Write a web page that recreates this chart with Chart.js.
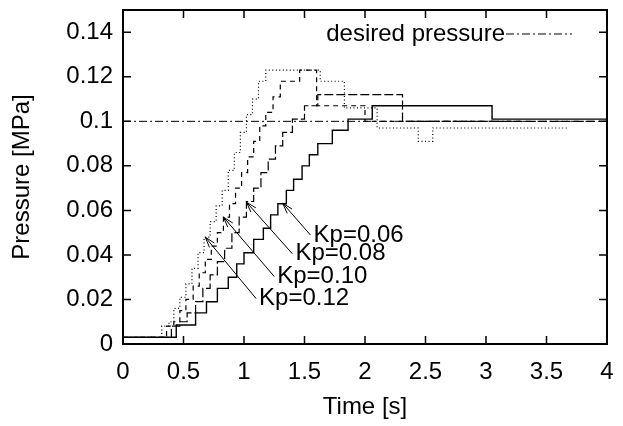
<!DOCTYPE html>
<html>
<head>
<meta charset="utf-8">
<script src="https://cdn.jsdelivr.net/npm/chart.js@4.4.0/dist/chart.umd.min.js"></script>
<style>
  body { margin: 0; background: #fff; }
  canvas { display: block; }
</style>
</head>
<body>
<canvas id="chart" width="623" height="426"></canvas>
<script>
// axis ticks
const xTicks = [0, 0.5, 1, 1.5, 2, 2.5, 3, 3.5, 4];
const xTickLabels = ['0', '0.5', '1', '1.5', '2', '2.5', '3', '3.5', '4'];
const yTicks = [0, 0.02, 0.04, 0.06, 0.08, 0.1, 0.12, 0.14];
const yTickLabels = ['0', '0.02', '0.04', '0.06', '0.08', '0.1', '0.12', '0.14'];

// desired pressure
const desiredT = [0, 4];
const desiredP = [0.1, 0.1];

// Kp=0.12 (time where the step starts, pressure of the step)
const kp12T = [0, 0.32, 0.38, 0.42, 0.47, 0.52, 0.57, 0.62, 0.67, 0.72, 0.77, 0.82, 0.87, 0.92, 0.97, 1.02, 1.07, 1.12, 1.18, 1.63, 1.83, 2.1, 2.44, 2.56, 3.68];
const kp12P = [0.003, 0.008, 0.010, 0.016, 0.021, 0.027, 0.034, 0.041, 0.048, 0.055, 0.062, 0.069, 0.078, 0.086, 0.095, 0.103, 0.110, 0.118, 0.123, 0.118, 0.106, 0.097, 0.091, 0.097, 0.097];

// Kp=0.10
const kp10T = [0, 0.36, 0.42, 0.47, 0.52, 0.58, 0.63, 0.68, 0.73, 0.78, 0.83, 0.88, 0.93, 0.98, 1.03, 1.08, 1.13, 1.18, 1.24, 1.30, 1.46, 1.60, 2.0, 3.3];
const kp10P = [0.003, 0.008, 0.010, 0.015, 0.020, 0.026, 0.032, 0.038, 0.044, 0.050, 0.057, 0.063, 0.070, 0.077, 0.084, 0.091, 0.098, 0.104, 0.111, 0.118, 0.123, 0.107, 0.100, 0.100];

// Kp=0.08
const kp08T = [0, 0.40, 0.47, 0.53, 0.60, 0.66, 0.72, 0.78, 0.84, 0.90, 0.96, 1.02, 1.08, 1.14, 1.20, 1.26, 1.32, 1.40, 1.50, 1.61, 2.31, 3.9];
const kp08P = [0.003, 0.008, 0.010, 0.014, 0.019, 0.025, 0.031, 0.037, 0.043, 0.050, 0.057, 0.064, 0.070, 0.077, 0.083, 0.089, 0.095, 0.101, 0.107, 0.112, 0.100, 0.100];

// Kp=0.06
const kp06T = [0, 0.44, 0.60, 0.69, 0.78, 0.87, 0.94, 1.00, 1.08, 1.16, 1.22, 1.28, 1.35, 1.41, 1.48, 1.54, 1.61, 1.73, 1.86, 2.06, 3.05, 4.0];
const kp06P = [0.003, 0.0085, 0.014, 0.019, 0.025, 0.030, 0.036, 0.041, 0.047, 0.052, 0.058, 0.063, 0.069, 0.074, 0.080, 0.085, 0.090, 0.096, 0.101, 0.107, 0.101, 0.101];

// labels with arrows: [label, tail t, tail p, tip t, tip p]
const kpNotes = [
    ['Kp=0.06', 1.55, 0.0489, 1.32, 0.0632],
    ['Kp=0.08', 1.40, 0.0405, 1.02, 0.0637],
    ['Kp=0.10', 1.25, 0.0303, 0.83, 0.0570],
    ['Kp=0.12', 1.10, 0.0204, 0.68, 0.0480]
];

const FONT = '"Liberation Sans", Arial, Helvetica, sans-serif';

function pts(ts, ps) {
    return ts.map((t, i) => ({ x: t, y: ps[i] }));
}

function series(label, ts, ps, dash, width) {
    return {
        label: label,
        data: pts(ts, ps),
        borderColor: '#000',
        borderWidth: width,
        borderDash: dash,
        pointRadius: 0,
        stepped: true,
        fill: false
    };
}

// frame, inward tick marks, key and arrow labels
const decorPlugin = {
    id: 'decor',
    afterDraw(chart) {
        const ctx = chart.ctx;
        const a = chart.chartArea;
        const xs = chart.scales.x;
        const ys = chart.scales.y;
        ctx.save();
        ctx.strokeStyle = '#000';
        ctx.fillStyle = '#000';
        ctx.setLineDash([]);
        ctx.lineWidth = 1.5;
        ctx.beginPath();
        xTicks.forEach(v => {
            const px = xs.getPixelForValue(v);
            ctx.moveTo(px, a.bottom); ctx.lineTo(px, a.bottom - 8);
            ctx.moveTo(px, a.top); ctx.lineTo(px, a.top + 8);
        });
        yTicks.forEach(v => {
            const py = ys.getPixelForValue(v);
            ctx.moveTo(a.left, py); ctx.lineTo(a.left + 8, py);
            ctx.moveTo(a.right, py); ctx.lineTo(a.right - 8, py);
        });
        ctx.stroke();
        ctx.lineWidth = 2;
        ctx.strokeRect(a.left, a.top, a.right - a.left, a.bottom - a.top);

        // key
        ctx.font = '24px ' + FONT;
        ctx.textAlign = 'right';
        ctx.textBaseline = 'middle';
        ctx.fillText('desired pressure', 505, 34);
        ctx.lineWidth = 1;
        ctx.setLineDash([8, 3, 2, 3]);
        ctx.beginPath();
        ctx.moveTo(506, 34);
        ctx.lineTo(572, 34);
        ctx.stroke();
        ctx.setLineDash([]);

        // arrows
        ctx.textAlign = 'left';
        kpNotes.forEach(n => {
            const x0 = xs.getPixelForValue(n[1]);
            const y0 = ys.getPixelForValue(n[2]);
            const x1 = xs.getPixelForValue(n[3]);
            const y1 = ys.getPixelForValue(n[4]);
            ctx.fillText(n[0], x0 + 3, y0);
            ctx.beginPath();
            ctx.moveTo(x0, y0);
            ctx.lineTo(x1, y1);
            const ang = Math.atan2(y0 - y1, x0 - x1);
            const hl = 11, hw = 0.3;
            ctx.moveTo(x1 + hl * Math.cos(ang + hw), y1 + hl * Math.sin(ang + hw));
            ctx.lineTo(x1, y1);
            ctx.lineTo(x1 + hl * Math.cos(ang - hw), y1 + hl * Math.sin(ang - hw));
            ctx.stroke();
        });
        ctx.restore();
    }
};

Chart.defaults.font.family = FONT;
Chart.defaults.font.size = 24;
Chart.defaults.color = '#000';

new Chart(document.getElementById('chart'), {
    type: 'line',
    data: {
        datasets: [
            series('desired pressure', desiredT, desiredP, [8, 3, 2, 3], 1),
            series('Kp=0.12', kp12T, kp12P, [1, 2.5], 1.2),
            series('Kp=0.10', kp10T, kp10P, [5, 4], 1.2),
            series('Kp=0.08', kp08T, kp08P, [9, 3], 1.2),
            series('Kp=0.06', kp06T, kp06P, [], 1.4)
        ]
    },
    options: {
        responsive: false,
        animation: false,
        layout: { padding: { top: 10, right: 16, left: 0, bottom: 0 } },
        plugins: {
            legend: { display: false },
            tooltip: { enabled: false }
        },
        scales: {
            x: {
                type: 'linear',
                min: 0,
                max: 4,
                grid: { display: false, drawTicks: false },
                border: { display: false },
                afterBuildTicks: s => { s.ticks = xTicks.map(v => ({ value: v })); },
                afterFit: s => { s.height = 82; s.paddingLeft = 0; s.paddingRight = 0; },
                ticks: {
                    padding: 14,
                    maxRotation: 0,
                    autoSkip: false,
                    callback: (v, i) => xTickLabels[i]
                },
                title: {
                    display: true,
                    text: 'Time [s]',
                    padding: { top: 0, bottom: 4 }
                }
            },
            y: {
                type: 'linear',
                min: 0,
                max: 0.15,
                grid: { display: false, drawTicks: false },
                border: { display: false },
                afterBuildTicks: s => { s.ticks = yTicks.map(v => ({ value: v })); },
                afterFit: s => { s.width = 123; s.paddingTop = 0; s.paddingBottom = 0; },
                ticks: {
                    padding: 10,
                    autoSkip: false,
                    callback: (v, i) => yTickLabels[i]
                },
                title: {
                    display: true,
                    text: 'Pressure [MPa]',
                    padding: { top: 8, bottom: 0 }
                }
            }
        }
    },
    plugins: [decorPlugin]
});
</script>
</body>
</html>
